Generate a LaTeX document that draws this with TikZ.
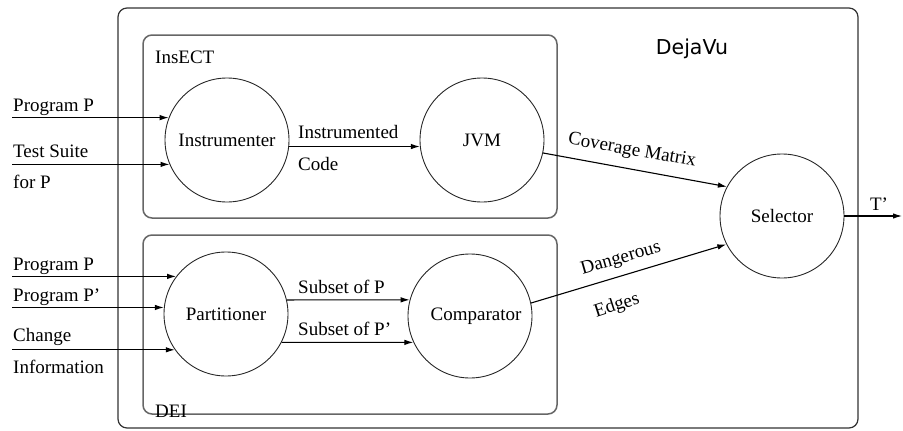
\documentclass[tikz,border=0pt]{standalone}
\usepackage{fontspec}
\setmainfont{Liberation Serif}
\newfontfamily\djv{DejaVu Sans}
\usetikzlibrary{arrows.meta}
\begin{document}
\begin{tikzpicture}[x=1pt,y=-1pt,
  proc/.style={circle,draw=black!85,line width=0.9pt,minimum size=124pt,inner sep=0pt,font=\fontsize{19}{22}\selectfont},
  arr/.style={-{Latex[length=9pt,width=5.5pt]},line width=1.1pt},
  lbl/.style={font=\fontsize{19}{22}\selectfont,inner sep=0pt},
  box/.style={draw=black!60,line width=1.5pt,rounded corners=9pt,inner sep=0pt},
]
\useasboundingbox (0,0) rectangle (903,431);
% containers
\node[box,draw=black!80,line width=1.2pt,minimum width=740pt,minimum height=420pt] (dejavu) at (488,218) {};
\node[box,minimum width=414pt,minimum height=183pt] (insect) at (350,126.5) {};
\node[box,minimum width=414pt,minimum height=179pt] (dei) at (350,324.5) {};
\node[font=\djv\fontsize{20.5}{24}\selectfont,inner sep=0pt] (dvl) at (692,49) {DejaVu};
\node[lbl,anchor=base west] (insl) at (155,63) {InsECT};
\node[lbl,anchor=base west] (deil) at (155,417) {DEI};
% processes
\node[proc] (instr) at (227,140) {Instrumenter\hspace{16pt}};
\node[proc] (jvm) at (482,140) {JVM};
\node[proc] (part) at (226,314) {Partitioner};
\node[proc] (comp) at (470,316) {\hspace{12pt}Comparator};
\node[proc] (sel) at (782,216) {Selector};
% inputs
\coordinate (in) at (12,0);
\draw[arr] (in |- instr.159) -- (instr.159);
\draw[arr] (in |- instr.203) -- (instr.203);
\draw[arr] (in |- part.143) -- (part.143);
\draw[arr] (in |- part.174) -- (part.174);
\draw[arr] (in |- part.215) -- (part.215);
\node[lbl,anchor=base west] (l1) at (13,111) {Program P};
\node[lbl,anchor=base west] (l2) at (13,157) {Test Suite};
\node[lbl,anchor=base west] (l3) at (13,188) {for P};
\node[lbl,anchor=base west] (l4) at (13,270) {Program P};
\node[lbl,anchor=base west] (l5) at (13,301) {Program P'};
\node[lbl,anchor=base west] (l6) at (13,341) {Change};
\node[lbl,anchor=base west] (l7) at (13,373) {Information};
% internal flows
\draw[arr] (instr.-6) -- (jvm.186);
\node[lbl,anchor=base west] (ic1) at (298,138) {Instrumented};
\node[lbl,anchor=base west] (ic2) at (298,170) {Code};
\draw[arr] (part.13) -- (comp.165);
\draw[arr] (part.-27) -- (comp.205);
\node[lbl,anchor=base west] (s1) at (298,293) {Subset of P};
\node[lbl,anchor=base west] (s2) at (298,335) {Subset of P'};
\draw[arr] (jvm.-12) -- (sel.152);
\node[lbl,rotate=-10] (cm) at (632,151) {Coverage Matrix};
\draw[arr] (comp.12) -- (sel.207);
\node[lbl,rotate=16] (dg) at (621,259) {Dangerous};
\node[lbl,rotate=18] (ed) at (617,306) {Edges};
% output
\coordinate (tout) at (902,216);
\draw[arr] (sel.east) -- (tout);
\node[lbl] (tl) at (879,204) {T'};
\end{tikzpicture}
\end{document}
